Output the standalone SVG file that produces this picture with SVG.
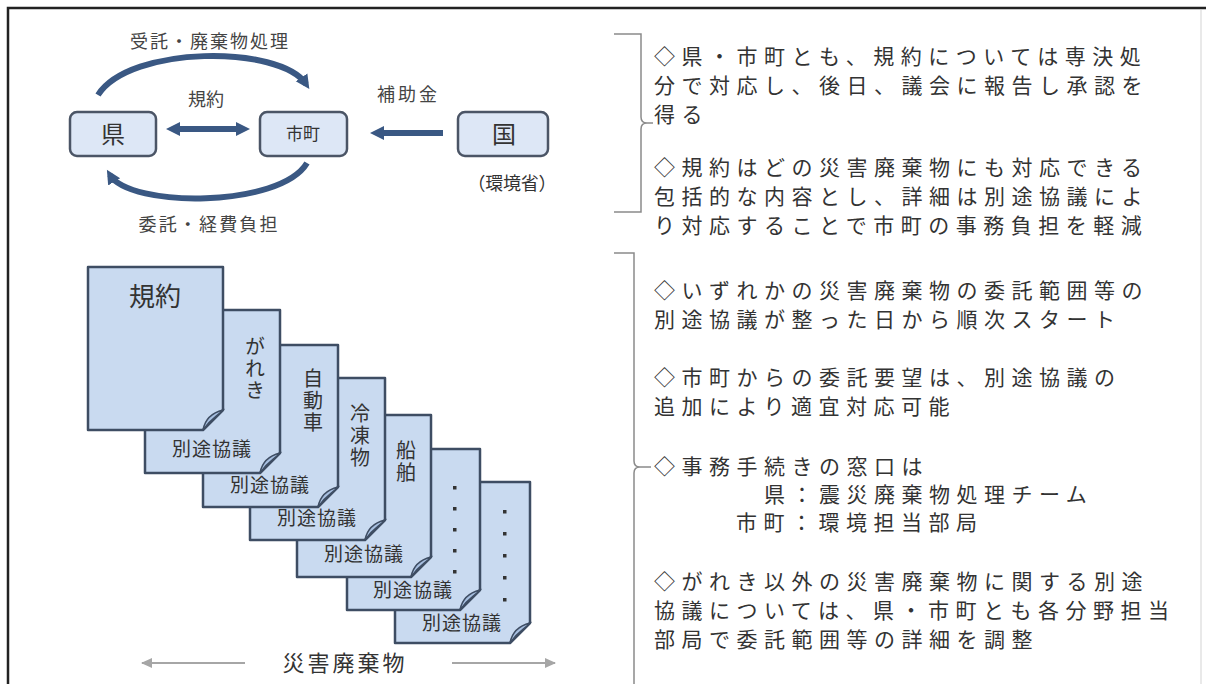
<svg xmlns="http://www.w3.org/2000/svg" width="1206" height="684" viewBox="0 0 1206 684">
<style>
  text { font-family: "Noto Sans CJK JP", "Noto Sans", sans-serif; fill: #333; }
  .lbl { font-size: 18px; fill: #444; text-anchor: middle; }
  .box { fill: #dde7f6; stroke: #4b5566; stroke-width: 2.5; }
  .doc { fill: #c9daf0; stroke: #3e4d63; stroke-width: 2.5; stroke-linejoin: round; }
  .flap { fill: #a7bfe0; stroke: #3e4d63; stroke-width: 1.5; }
  .dt { font-size: 19px; text-anchor: middle; letter-spacing: 1px; fill: #333; }
  .vt { font-size: 20px; letter-spacing: 2px; fill: #333; writing-mode: vertical-rl; }
  .rt { font-size: 21px; letter-spacing: 6.5px; fill: #333; }
  .arc { fill: none; stroke: #3a5883; stroke-width: 6; }
  .gray { fill: none; stroke: #a6a6a6; stroke-width: 2; }
  .brk { fill: none; stroke: #8a8a8a; stroke-width: 1.5; }
</style>
<defs>
  <marker id="ah" markerUnits="userSpaceOnUse" markerWidth="16" markerHeight="16" refX="8" refY="8" orient="auto">
    <path d="M0,1 L14,8 L0,15 Z" fill="#3a5883"/>
  </marker>
  <marker id="ahs" markerUnits="userSpaceOnUse" markerWidth="16" markerHeight="16" refX="8" refY="8" orient="auto-start-reverse">
    <path d="M0,1 L14,8 L0,15 Z" fill="#3a5883"/>
  </marker>
  <marker id="ag" markerUnits="userSpaceOnUse" markerWidth="12" markerHeight="12" refX="10" refY="6" orient="auto">
    <path d="M0,1 L11,6 L0,11 Z" fill="#a6a6a6"/>
  </marker>
</defs>
<rect width="1206" height="684" fill="#ffffff"/>
<!-- frame -->
<path d="M8,684 V8 H1206" fill="none" stroke="#222" stroke-width="2.5"/>
<line x1="1201" y1="10" x2="1201" y2="684" stroke="#e2e2e2" stroke-width="1.5"/>

<!-- connectors -->
<g id="connectors">
  <path class="arc" d="M98,95 C130,45 280,45 306,84" marker-end="url(#ah)"/>
  <path class="arc" d="M307,163 C280,208 130,208 110,175" marker-end="url(#ah)"/>
  <line class="arc" x1="172" y1="129" x2="244" y2="129" marker-start="url(#ahs)" marker-end="url(#ah)"/>
  <line class="arc" x1="443" y1="133" x2="376" y2="133" stroke-width="5" marker-end="url(#ah)"/>
  <line class="gray" x1="245" y1="663" x2="142" y2="663" marker-end="url(#ag)"/>
  <line class="gray" x1="452" y1="663" x2="555" y2="663" marker-end="url(#ag)"/>
  <path class="brk" d="M614,34 H641 V117 Q641,123 647,123 H653 M647,123 Q641,123 641,129 V212 H614"/>
  <path class="brk" d="M614,253 H634 V461 Q634,467 640,467 H651 M640,467 Q634,467 634,473 V684"/>
</g>

<g id="labels">
  <text class="lbl" x="209" y="48" textLength="158" lengthAdjust="spacing">受託・廃棄物処理</text>
  <text class="lbl" x="206" y="106">規約</text>
  <text class="lbl" x="407" y="101" textLength="60" lengthAdjust="spacing">補助金</text>
  <text class="lbl" x="208" y="231" textLength="139" lengthAdjust="spacing">委託・経費負担</text>
</g>

<g id="node-ken">
  <rect class="box" x="70" y="112" width="86" height="44" rx="7"/>
  <text x="113" y="143" font-size="24" text-anchor="middle">県</text>
</g>
<g id="node-shicho">
  <rect class="box" x="260" y="112" width="87" height="44" rx="7"/>
  <text x="303" y="140" font-size="17" text-anchor="middle">市町</text>
</g>
<g id="node-kuni">
  <rect class="box" x="458" y="112" width="90" height="44" rx="7"/>
  <text x="504" y="143" font-size="24" text-anchor="middle">国</text>
  <text x="512" y="190" font-size="18" text-anchor="middle" textLength="89" lengthAdjust="spacing" fill="#444">（環境省）</text>
</g>

<!-- document stack, back to front -->
<g id="doc7">
  <path class="doc" d="M395,482 H530 V623 L510,643 H395 Z"/>
  <path class="flap" d="M510,643 C512,632 518,626 530,623 C524,630 518,631 510,643 Z"/>
  <g fill="#333">
    <rect x="503" y="510" width="3.5" height="3.5"/><rect x="503" y="532" width="3.5" height="3.5"/><rect x="503" y="554" width="3.5" height="3.5"/><rect x="503" y="576" width="3.5" height="3.5"/><rect x="503" y="598" width="3.5" height="3.5"/>
  </g>
  <text class="dt" x="462" y="630">別途協議</text>
</g>
<g id="doc6">
  <path class="doc" d="M347,449 H480 V590 L460,610 H347 Z"/>
  <path class="flap" d="M460,610 C462,599 468,593 480,590 C474,597 468,598 460,610 Z"/>
  <g fill="#333">
    <rect x="453" y="486" width="3.5" height="3.5"/><rect x="453" y="507" width="3.5" height="3.5"/><rect x="453" y="528" width="3.5" height="3.5"/><rect x="453" y="549" width="3.5" height="3.5"/><rect x="453" y="570" width="3.5" height="3.5"/>
  </g>
  <text class="dt" x="413" y="597">別途協議</text>
</g>
<g id="doc5">
  <path class="doc" d="M297,415 H431 V557 L411,577 H297 Z"/>
  <path class="flap" d="M411,577 C413,566 419,560 431,557 C425,564 419,565 411,577 Z"/>
  <text class="vt" x="406" y="440">船舶</text>
  <text class="dt" x="364" y="561">別途協議</text>
</g>
<g id="doc4">
  <path class="doc" d="M250,378 H385 V520 L365,540 H250 Z"/>
  <path class="flap" d="M365,540 C367,529 373,523 385,520 C379,527 373,528 365,540 Z"/>
  <text class="vt" x="360" y="403">冷凍物</text>
  <text class="dt" x="317" y="525">別途協議</text>
</g>
<g id="doc3">
  <path class="doc" d="M203,345 H338 V487 L318,507 H203 Z"/>
  <path class="flap" d="M318,507 C320,496 326,490 338,487 C332,494 326,495 318,507 Z"/>
  <text class="vt" x="313" y="368">自動車</text>
  <text class="dt" x="270" y="492">別途協議</text>
</g>
<g id="doc2">
  <path class="doc" d="M145,310 H280 V453 L260,473 H145 Z"/>
  <path class="flap" d="M260,473 C262,462 268,456 280,453 C274,460 268,461 260,473 Z"/>
  <text class="vt" x="255" y="336">がれき</text>
  <text class="dt" x="212" y="456">別途協議</text>
</g>
<g id="doc1">
  <path class="doc" d="M88,267 H223 V410 L203,430 H88 Z"/>
  <path class="flap" d="M203,430 C205,419 211,413 223,410 C217,417 211,418 203,430 Z"/>
  <text x="155" y="306" font-size="26" text-anchor="middle" fill="#333">規約</text>
</g>

<text x="345" y="671" font-size="22" letter-spacing="3" text-anchor="middle" fill="#666">災害廃棄物</text>

<!-- right notes -->
<g id="notes">
  <text class="rt" x="654" y="64">◇県・市町とも、規約については専決処</text>
  <text class="rt" x="654" y="93">分で対応し、後日、議会に報告し承認を</text>
  <text class="rt" x="654" y="122">得る</text>
  <text class="rt" x="654" y="175">◇規約はどの災害廃棄物にも対応できる</text>
  <text class="rt" x="654" y="204">包括的な内容とし、詳細は別途協議によ</text>
  <text class="rt" x="654" y="233">り対応することで市町の事務負担を軽減</text>
  <text class="rt" x="654" y="298">◇いずれかの災害廃棄物の委託範囲等の</text>
  <text class="rt" x="654" y="327">別途協議が整った日から順次スタート</text>
  <text class="rt" x="654" y="385">◇市町からの委託要望は、別途協議の</text>
  <text class="rt" x="654" y="414">追加により適宜対応可能</text>
  <text class="rt" x="654" y="474">◇事務手続きの窓口は</text>
  <text class="rt" x="764" y="502">県：震災廃棄物処理チーム</text>
  <text class="rt" x="736" y="530">市町：環境担当部局</text>
  <text class="rt" x="654" y="589">◇がれき以外の災害廃棄物に関する別途</text>
  <text class="rt" x="654" y="618">協議については、県・市町とも各分野担当</text>
  <text class="rt" x="654" y="647">部局で委託範囲等の詳細を調整</text>
</g>
</svg>
